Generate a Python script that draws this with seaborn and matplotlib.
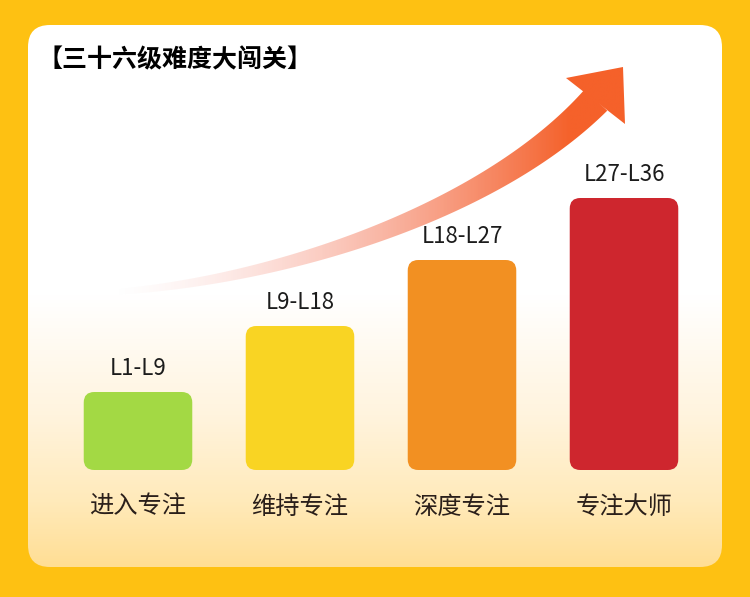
import numpy as np
import matplotlib
matplotlib.use("Agg")
import matplotlib.pyplot as plt
import pandas as pd
import seaborn as sns
from matplotlib.patches import FancyBboxPatch, Polygon

# data
stages = ["进入专注", "维持专注", "深度专注", "专注大师"]
levels = ["L1-L9", "L9-L18", "L18-L27", "L27-L36"]
heights = [78, 144, 210, 272]
colors = ["#A3D944", "#F9D423", "#F29022", "#CE262E"]
title = "【三十六级难度大闯关】"

sns.set_theme(style="white")
plt.rcParams["font.family"] = ["Noto Sans CJK SC", "DejaVu Sans"]

W, H = 750, 597
fig = plt.figure(figsize=(W / 100, H / 100), dpi=100)
fig.patch.set_facecolor("#FEC112")

# background layer in pixel coords
bg = fig.add_axes([0, 0, 1, 1])
bg.set_xlim(0, W)
bg.set_ylim(H, 0)
bg.axis("off")

card = FancyBboxPatch((28, 25), 694, 542, boxstyle="round,pad=0,rounding_size=22",
                      facecolor="none", edgecolor="none")
bg.add_patch(card)
fy = np.linspace(0, 1, 400)
stop_pos = [0, 0.5, 0.72, 0.88, 1.0]
stop_col = np.array([[255, 255, 255], [255, 255, 255], [255, 244, 222],
                     [255, 234, 186], [255, 222, 148]]) / 255
grad = np.stack([np.interp(fy, stop_pos, stop_col[:, k]) for k in range(3)], axis=1)[:, None, :]
bg.imshow(grad, extent=(28, 722, 567, 25), aspect="auto", clip_path=card, zorder=1)

# curved rising arrow with gradient
P = np.array([[115, 292], [280, 280], [490, 212], [596, 100]], dtype=float)
t = np.linspace(0, 1, 200)[:, None]
curve = (1 - t) ** 3 * P[0] + 3 * (1 - t) ** 2 * t * P[1] + 3 * (1 - t) * t ** 2 * P[2] + t ** 3 * P[3]
deriv = 3 * (1 - t) ** 2 * (P[1] - P[0]) + 6 * (1 - t) * t * (P[2] - P[1]) + 3 * t ** 2 * (P[3] - P[2])
normal = np.column_stack([-deriv[:, 1], deriv[:, 0]]) / np.linalg.norm(deriv, axis=1)[:, None]
half_w = (6 + 25 * t ** 1.2) / 2
shaft = np.vstack([curve + normal * half_w, (curve - normal * half_w)[::-1]])
head = np.array([[623, 67], [566, 78], [625, 124]])

gx = np.linspace(100, 630, 500)
frac = np.clip((gx - 110) / (570 - 110), 0, 1)
arrow_img = np.zeros((1, len(gx), 4))
arrow_img[0, :, 0] = np.interp(frac, [0, 1], [242 / 255, 245 / 255])
arrow_img[0, :, 1] = np.interp(frac, [0, 1], [112 / 255, 97 / 255])
arrow_img[0, :, 2] = np.interp(frac, [0, 1], [100 / 255, 42 / 255])
arrow_img[0, :, 3] = frac ** 1.4
for poly in (shaft, head):
    clip = Polygon(poly, closed=True, facecolor="none", edgecolor="none")
    bg.add_patch(clip)
    bg.imshow(arrow_img, extent=(100, 630, 310, 55), aspect="auto", clip_path=clip,
              zorder=2, interpolation="bilinear")

bg.text(37, 60, title, fontsize=18, fontweight="heavy", color="#000000",
        ha="left", va="center", zorder=3)

# bars: 1 y unit = 1 px, 1 x unit = 162 px
ax = fig.add_axes([57 / W, 127 / H, 648 / W, 300 / H])
ax.patch.set_alpha(0)
df = pd.DataFrame({"stage": stages, "height": heights})
sns.barplot(data=df, x="stage", y="height", hue="stage", palette=colors,
            saturation=1, width=0.67, legend=False, ax=ax)
ax.set_xlim(-0.5, 3.5)
ax.set_ylim(0, 300)

for bar in list(ax.patches):
    bar.set_visible(False)
    ax.add_patch(FancyBboxPatch((bar.get_x(), bar.get_y()), bar.get_width(), bar.get_height(),
                                boxstyle="round,pad=0,rounding_size=0.065", mutation_aspect=162,
                                facecolor=bar.get_facecolor(), edgecolor="none"))

for i, (lv, h) in enumerate(zip(levels, heights)):
    ax.annotate(lv, (i, h), xytext=(0, 12), textcoords="offset points",
                ha="center", va="baseline", fontsize=16, color="#1C1C1C")

ax.set_xlabel("")
ax.set_ylabel("")
ax.set_yticks([])
ax.tick_params(axis="x", length=0, pad=17, labelsize=17.5, labelcolor="#2A1F1A")
sns.despine(ax=ax, left=True, bottom=True)

fig.savefig("out.png", dpi=100, facecolor=fig.get_facecolor())
